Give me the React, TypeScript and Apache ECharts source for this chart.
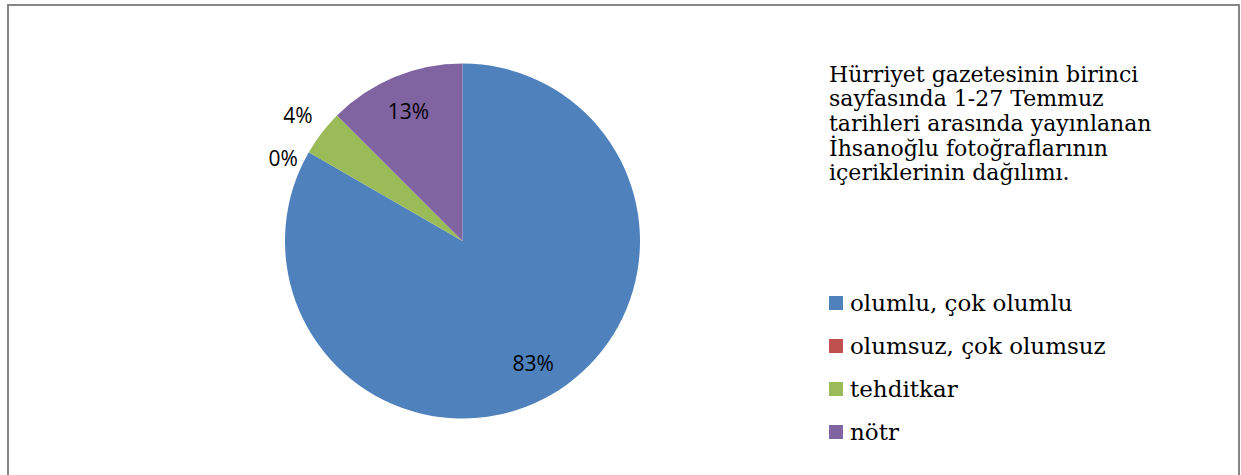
import React, { useEffect, useRef } from "react";
import * as echarts from "echarts";

const categories = ["olumlu, çok olumlu", "olumsuz, çok olumsuz", "tehditkar", "nötr"];
const values = [20, 0, 1, 3];
const colors = ["#4F81BD", "#C0504D", "#9BBB59", "#8064A2"];
const insideLabel = [true, false, false, true];
const titleLines = [
  "Hürriyet gazetesinin birinci",
  "sayfasında 1-27 Temmuz",
  "tarihleri arasında yayınlanan",
  "İhsanoğlu fotoğraflarının",
  "içeriklerinin dağılımı.",
];

const SERIF = "DejaVu Serif";
const SANS = "Open Sans";

export default function App() {
  const ref = useRef<HTMLDivElement>(null);
  useEffect(() => {
    document.body.style.margin = "0";
    const chart = echarts.init(ref.current!, null, { renderer: "svg" });
    const outsideLine = [
      null,
      { show: false, length: 0, length2: 6 },
      { show: false, length: 29, length2: -19 },
      null,
    ];
    const outsideLabel = [
      null,
      { show: true, position: "outside", formatter: "\n{d}%", lineHeight: 12 },
      { show: true, position: "outside" },
      null,
    ];
    chart.setOption({
      animation: false,
      backgroundColor: "#ffffff",
      title: {
        text: titleLines.join("\n"),
        left: 829,
        top: 62,
        padding: 0,
        textStyle: {
          fontFamily: SERIF,
          fontSize: 22,
          lineHeight: 24.6,
          fontWeight: "normal",
          color: "#000000",
        },
      },
      legend: {
        orient: "vertical",
        left: 829,
        top: 291,
        padding: 0,
        itemGap: 19,
        itemWidth: 14,
        itemHeight: 14,
        icon: "rect",
        data: categories,
        textStyle: {
          fontFamily: SERIF,
          fontSize: 23,
          lineHeight: 24,
          color: "#000000",
          padding: [0, 0, 0, 2],
        },
      },
      graphic: [
        {
          type: "rect",
          shape: { x: 8, y: 5, width: 1231, height: 480 },
          style: { fill: "none", stroke: "#868686", lineWidth: 2 },
          silent: true,
        },
      ],
      series: [
        {
          type: "pie",
          center: [462.5, 241],
          radius: 177.5,
          startAngle: 90,
          clockwise: true,
          percentPrecision: 0,
          avoidLabelOverlap: false,
          data: categories.map((name, i) => ({
            name,
            value: values[i],
            itemStyle: { color: colors[i] },
            label: insideLabel[i] ? { show: false } : outsideLabel[i],
            labelLine: insideLabel[i] ? { show: false } : outsideLine[i],
          })),
          label: {
            formatter: "{d}%",
            fontFamily: SANS,
            fontSize: 21,
            color: "#000000",
          },
          emphasis: { disabled: true },
        },
        {
          type: "pie",
          center: [462.5, 241],
          radius: [99, 177.5],
          startAngle: 90,
          clockwise: true,
          percentPrecision: 0,
          silent: true,
          avoidLabelOverlap: false,
          legendHoverLink: false,
          data: categories.map((name, i) => ({
            name,
            value: values[i],
            itemStyle: { color: "rgba(0,0,0,0)" },
            label: { show: insideLabel[i], position: "inside" },
            labelLine: { show: false },
          })),
          label: {
            formatter: "{d}%",
            fontFamily: SANS,
            fontSize: 21,
            color: "#000000",
          },
          emphasis: { disabled: true },
        },
      ],
    });
    return () => chart.dispose();
  }, []);
  return <div ref={ref} style={{ width: 1241, height: 475 }} />;
}
